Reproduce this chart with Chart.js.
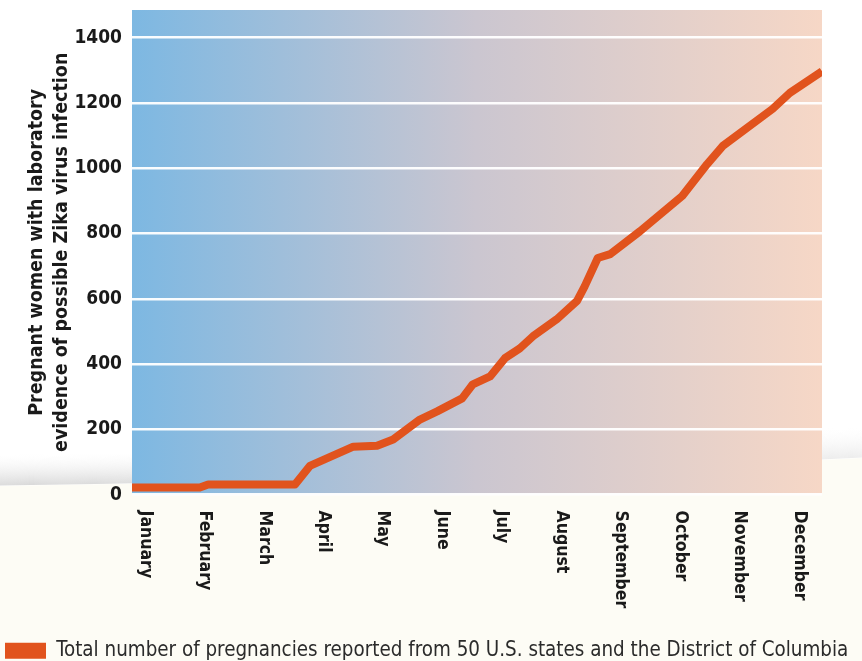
<!DOCTYPE html>
<html>
<head>
<meta charset="utf-8">
<script src="https://cdn.jsdelivr.net/npm/chart.js@4/dist/chart.umd.min.js"></script>
<style>
  html, body { margin: 0; padding: 0; background: #ffffff; }
  #wrap { width: 862px; height: 661px; position: relative; }
</style>
</head>
<body>
<div id="wrap"><canvas id="chart"></canvas></div>
<script>
// month tick labels (x = 0 is January)
const monthNames = ['January', 'February', 'March', 'April', 'May', 'June',
  'July', 'August', 'September', 'October', 'November', 'December'];
// report date, in months from the January tick
const reportMonth = [-0.22, 0.92, 1.06, 2.52, 2.77, 3.50, 3.90, 4.17, 4.62, 4.91,
  5.33, 5.51, 5.80, 6.05, 6.30, 6.52, 6.92, 7.26, 7.39, 7.61, 7.82, 8.32, 9.03,
  9.45, 9.71, 10.55, 10.84, 11.38];
// cumulative pregnancies with possible Zika infection
const pregnancies = [22, 22, 31, 31, 88, 147, 150, 169, 230, 255,
  295, 338, 362, 418, 448, 485, 537, 593, 638, 725, 737, 807, 915,
  1013, 1068, 1182, 1231, 1297];
const yTicks = [0, 200, 400, 600, 800, 1000, 1200, 1400];

const seriesLabel = 'Total number of pregnancies reported from 50 U.S. states and the District of Columbia';
const narrow = "'Liberation Sans Narrow', 'DejaVu Sans Condensed', sans-serif";
const orange = '#e1531d';

function swooshPath(ctx, dy) {
  ctx.beginPath();
  ctx.moveTo(0, 486 + dy);
  ctx.quadraticCurveTo(430, 480 + dy, 862, 458 + dy);
}

const backdrop = {
  id: 'backdrop',
  beforeDraw(chart) {
    const { ctx, chartArea: a, width, height } = chart;
    ctx.save();
    ctx.fillStyle = '#ffffff';
    ctx.fillRect(0, 0, width, height);

    // cream page below the swoosh
    swooshPath(ctx, 0);
    ctx.lineTo(width, height);
    ctx.lineTo(0, height);
    ctx.closePath();
    ctx.fillStyle = '#fdfcf5';
    ctx.fill();

    // soft grey shadow above the swoosh edge
    const sg = ctx.createLinearGradient(0, 0, width, 0);
    sg.addColorStop(0, 'rgb(150,150,150)');
    sg.addColorStop(1, 'rgb(205,205,205)');
    ctx.strokeStyle = sg;
    ctx.lineWidth = 1.2;
    for (let k = 1; k <= 32; k++) {
      ctx.globalAlpha = 0.38 * Math.pow(1 - k / 33, 1.8);
      swooshPath(ctx, -k);
      ctx.stroke();
    }
    ctx.globalAlpha = 1;

    const g = ctx.createLinearGradient(a.left, 0, a.right, 0);
    g.addColorStop(0, '#7db8e2');
    g.addColorStop(0.5, '#cbc6d0');
    g.addColorStop(1, '#f6d7c6');
    ctx.fillStyle = g;
    ctx.fillRect(a.left, a.top, a.right - a.left, a.bottom - a.top);
    ctx.restore();
  }
};

const monthLabels = {
  id: 'monthLabels',
  afterDraw(chart) {
    const { ctx, chartArea: a } = chart;
    const x = chart.scales.x;
    ctx.save();
    ctx.font = "bold 17.5px " + narrow;
    ctx.fillStyle = '#1a1a1a';
    ctx.textAlign = 'left';
    ctx.textBaseline = 'middle';
    monthNames.forEach((m, i) => {
      ctx.save();
      ctx.translate(x.getPixelForValue(i), a.bottom + 16);
      ctx.rotate(Math.PI / 2);
      ctx.fillText(m, 0, 0);
      ctx.restore();
    });
    ctx.restore();
  }
};

new Chart(document.getElementById('chart'), {
  type: 'line',
  data: {
    datasets: [{
      label: seriesLabel,
      data: reportMonth.map((m, i) => ({ x: m, y: pregnancies[i] })),
      borderColor: orange,
      backgroundColor: orange,
      borderWidth: 8,
      borderJoinStyle: 'round',
      tension: 0,
      pointRadius: 0,
      fill: false
    }]
  },
  options: {
    responsive: true,
    maintainAspectRatio: false,
    animation: false,
    layout: { padding: { top: 10, right: 0, left: 0, bottom: -10 } },
    plugins: {
      tooltip: { enabled: false },
      legend: {
        position: 'bottom',
        align: 'start',
        labels: {
          boxWidth: 41,
          boxHeight: 16,
          padding: 5,
          color: '#2b2b2b',
          font: { family: narrow, size: 20.4 },
          generateLabels(chart) {
            return Chart.defaults.plugins.legend.labels.generateLabels(chart)
              .map(l => ({ ...l, lineWidth: 0 }));
          }
        }
      }
    },
    scales: {
      x: {
        type: 'linear',
        min: -0.22,
        max: 11.38,
        border: { display: false },
        grid: { display: false },
        ticks: { display: false },
        afterFit(s) { s.height = 141; }
      },
      y: {
        min: 0,
        max: 1485,
        border: { display: false },
        grid: { color: 'rgba(255,255,255,0.95)', lineWidth: 2.5, drawTicks: false },
        afterBuildTicks(s) { s.ticks = yTicks.map(v => ({ value: v })); },
        ticks: {
          padding: 10,
          color: '#1a1a1a',
          font: { family: narrow, size: 19, weight: 'bold' },
          callback: v => String(v)
        },
        title: {
          display: true,
          text: ['Pregnant women with laboratory', 'evidence of possible Zika virus infection'],
          color: '#1a1a1a',
          font: { family: narrow, size: 19.5, weight: 'bold', lineHeight: 1.25 },
          padding: { top: 25, bottom: 0 }
        },
        afterFit(s) { s.width = 132; s.paddingTop = 0; s.paddingBottom = 0; }
      },
      // empty right-hand strip so the legend can use the full width
      yRight: {
        position: 'right',
        display: true,
        border: { display: false },
        grid: { display: false },
        ticks: { display: false },
        afterFit(s) { s.width = 40; s.paddingTop = 0; s.paddingBottom = 0; }
      }
    }
  },
  plugins: [backdrop, monthLabels]
});
</script>
</body>
</html>
